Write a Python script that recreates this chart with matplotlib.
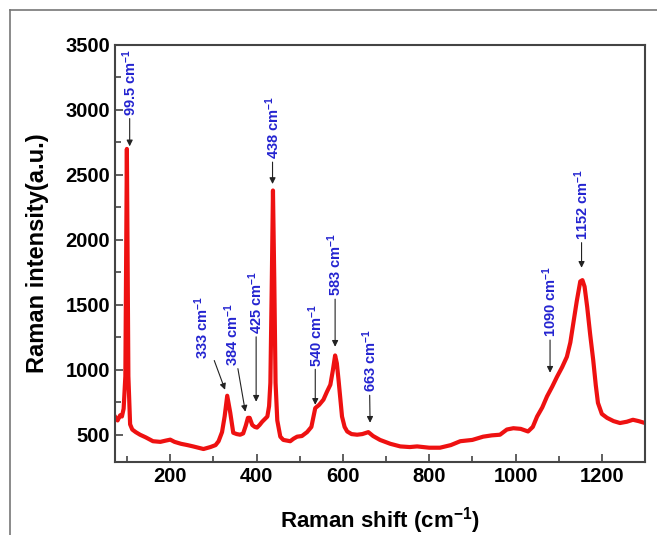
import matplotlib
matplotlib.use("Agg")
import matplotlib.pyplot as plt
from matplotlib.lines import Line2D

# --- spectrum --- #
shift = [72, 78, 84, 88, 92, 96, 99.5, 103, 107, 112, 120, 130, 143, 160, 177,
         190, 200, 210, 225, 240, 253, 265, 277, 293, 305, 312, 320, 326, 332,
         339, 346, 354, 362, 369, 375, 380, 384, 390, 396, 401, 407, 413, 419,
         425, 429, 432, 435, 438, 441, 444, 448, 455, 462, 470, 478, 486, 494,
         505, 517, 527, 536, 545, 555, 563, 571, 577, 582, 586, 590, 594, 598,
         604, 610, 620, 633, 645, 659, 670, 686, 710, 733, 755, 772, 800, 825,
         850, 872, 900, 925, 945, 964, 980, 995, 1012, 1029, 1040, 1050, 1062,
         1073, 1085, 1096, 1108, 1119, 1127, 1134, 1142, 1150, 1155, 1160, 1166,
         1173, 1180, 1186, 1191, 1200, 1212, 1227, 1242, 1258, 1272, 1285, 1295]
intensity = [640, 610, 650, 640, 700, 950, 2700, 950, 580, 540, 520, 500, 480,
             450, 445, 455, 462, 445, 430, 420, 410, 400, 390, 405, 420, 450,
             520, 640, 800, 670, 515, 505, 500, 510, 570, 630, 630, 575, 560,
             555, 575, 600, 620, 640, 720, 900, 1600, 2380, 1700, 900, 610, 485,
             460, 455, 450, 470, 485, 490, 520, 560, 705, 730, 770, 830, 885,
             1000, 1110, 1050, 920, 780, 640, 560, 525, 505, 500, 505, 520, 490,
             460, 430, 410, 405, 410, 400, 400, 420, 450, 460, 485, 495, 500,
             540, 550, 545, 525, 560, 640, 710, 795, 870, 945, 1020, 1100, 1210,
             1360, 1530, 1680, 1690, 1640, 1485, 1270, 1075, 880, 745, 660, 630,
             605, 590, 600, 615, 605, 595]

# --- peak labels: (label, tip x, tip y, text x, text y) --- #
peak_labels = ["99.5", "438", "333", "384", "425", "540", "583", "663", "1090", "1152"]
tip_x = [106, 437, 327, 374, 399, 536, 582, 663, 1080, 1153]
tip_y = [2720, 2430, 846, 677, 754, 730, 1177, 592, 977, 1785]
text_x = [106, 437, 274, 343, 399, 536, 582, 661, 1080, 1153]
text_y = [2955, 2620, 1080, 1030, 1275, 1025, 1565, 825, 1250, 2000]

plt.rcParams['font.family'] = ['Liberation Sans', 'DejaVu Sans']
plt.rcParams['font.weight'] = 'bold'
plt.rcParams['mathtext.fontset'] = 'custom'
plt.rcParams['mathtext.rm'] = 'Liberation Sans:bold'
plt.rcParams['mathtext.bf'] = 'Liberation Sans:bold'
plt.rcParams['mathtext.default'] = 'bf'

fig = plt.figure(figsize=(6.57, 5.35), dpi=100)
ax = fig.add_axes([115 / 657, 1 - 462 / 535, 530 / 657, 417 / 535])

# outer grey frame, runs off the right and bottom edges
fig.add_artist(Line2D([10 / 657, 1], [1 - 10 / 535] * 2, color="#777777", lw=1.2,
                      transform=fig.transFigure))
fig.add_artist(Line2D([10 / 657] * 2, [0, 1 - 10 / 535], color="#777777", lw=1.2,
                      transform=fig.transFigure))

ax.plot(shift, intensity, color="#ee1111", lw=3, solid_joinstyle="round")

for lab, tx, ty, xt, yt in zip(peak_labels, tip_x, tip_y, text_x, text_y):
    ax.annotate(lab + r" cm$^{-1}$", xy=(tx, ty), xytext=(xt, yt),
                rotation=90, ha="center", va="bottom", color="#2323d0",
                fontsize=10.5, fontweight="bold",
                arrowprops=dict(arrowstyle="-|>", color="#222222", lw=0.8,
                                mutation_scale=9, shrinkA=0, shrinkB=0))

ax.set_xlim(72, 1300)
ax.set_ylim(290, 3500)
ax.set_xticks([200, 400, 600, 800, 1000, 1200])
ax.set_xticks(range(100, 1300, 200), minor=True)
ax.set_yticks([500, 1000, 1500, 2000, 2500, 3000, 3500])
ax.set_yticks(range(750, 3500, 500), minor=True)
ax.tick_params(which="both", direction="in", top=False, right=False,
               labelsize=14.5, width=1.2, color="#444444")
ax.tick_params(which="major", length=6)
ax.tick_params(which="minor", length=4)
for sp in ax.spines.values():
    sp.set_linewidth(1.5)
    sp.set_color("#444444")

ax.set_xlabel(r"Raman shift (cm$^{-1}$)", fontsize=16, fontweight="bold", labelpad=14)
ax.set_ylabel("Raman intensity(a.u.)", fontsize=17, fontweight="bold", labelpad=12)

fig.savefig("out.png", dpi=100)
